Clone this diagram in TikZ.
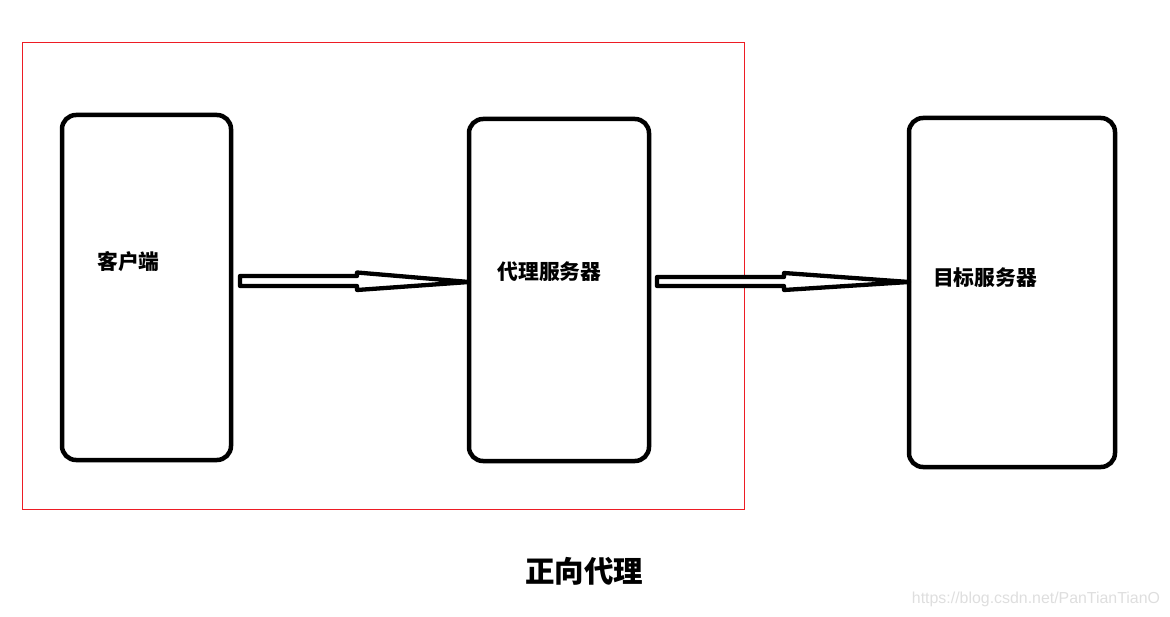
\documentclass[tikz,border=0pt]{standalone}
\usepackage{fontspec}
\newfontfamily\cjk{Noto Sans CJK SC}
\newfontfamily\wmfont{Liberation Sans}
\usetikzlibrary{calc}
\definecolor{paintred}{RGB}{237,28,36}
\tikzset{
    box/.style={draw, line width=4.5pt, rounded corners=14pt, inner sep=0pt,
    	outer sep=0pt},
    hollow/.style={draw, line width=4.3pt, line join=round, fill=white},
    lbl/.style={font=\cjk\bfseries\fontsize{20.8}{24}\selectfont, inner sep=0pt}
}

\begin{document}
\begin{tikzpicture}[x=1pt, y=-1pt]
	\useasboundingbox (0,0) rectangle (1170,617);
	\draw[paintred, line width=1pt] (22,43) rectangle (744,509);
	
	\node (client) [box, minimum width=169pt, minimum height=345pt] at (146.5,287.5) {};
	\node (proxy) [box, minimum width=180pt, minimum height=342pt] at (559,290) {};
	\node (target) [box, minimum width=206pt, minimum height=349pt] at (1012,292.5) {};
	
	\node (clientlbl) [lbl] at (128.5,262) {客户端};
	\node (proxylbl) [lbl] at (549.5,272) {代理服务器};
	\node (targetlbl) [lbl] at (985,278) {目标服务器};
	\node (title) [font=\cjk\bfseries\fontsize{29.5}{34}\selectfont, inner sep=0pt] at (584,571) {正向代理};
	\node (mark) [font=\wmfont\fontsize{15.9}{18}\selectfont, text=black!13, inner sep=0pt] at (1036,599) {https://blog.csdn.net/PanTianTianO};
	
	\coordinate (a1) at ($(client.east)+(9,-6.5)$);
	\coordinate (t1) at (proxy.west |- 0,282);
	\coordinate (a2) at ($(proxy.east)+(8,-8.5)$);
	\coordinate (t2) at (target.west |- 0,282);
	
	\draw[hollow] ($(a1)+(0,-5)$) -- ($(a1)+(117,-5)$) -- ($(a1)+(117,-8.5)$) -- (t1)
		-- ($(a1)+(117,9)$) -- ($(a1)+(117,5)$) -- ($(a1)+(0,5)$) -- cycle;
	\draw[hollow] ($(a2)+(0,-4.5)$) -- ($(a2)+(127,-4.5)$) -- ($(a2)+(127,-8.5)$) -- (t2)
		-- ($(a2)+(127,8.5)$) -- ($(a2)+(127,4.5)$) -- ($(a2)+(0,4.5)$) -- cycle;
\end{tikzpicture}
\end{document}
